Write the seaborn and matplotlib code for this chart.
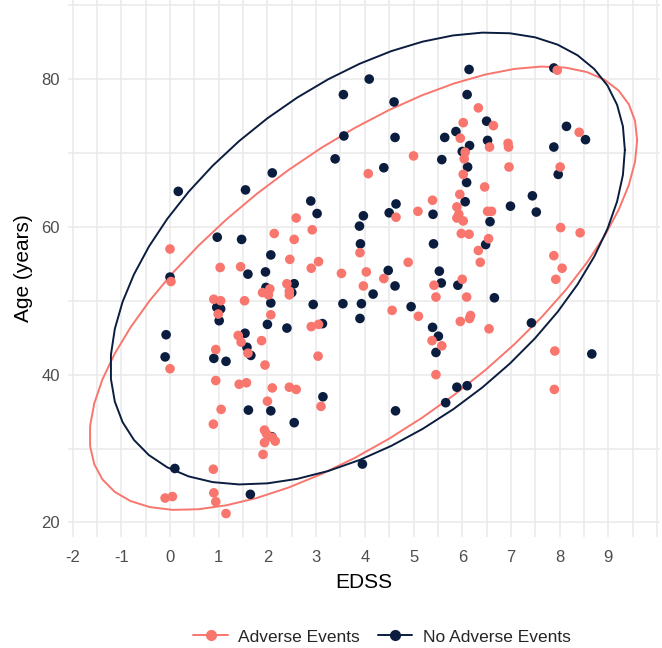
import numpy as np
import pandas as pd
import matplotlib
matplotlib.use("Agg")
import matplotlib.pyplot as plt
import seaborn as sns
from matplotlib.lines import Line2D

# ===============================
# Data
# ===============================
ae_edss = [0.0, 0.02, 0.0, -0.1, 0.05, 0.94, 1.46, 1.6, 1.88, 1.95, 3.04, 0.94, 1.42, 1.57,
           2.1, 2.45, 2.59, 2.0, 1.05, 0.89, 3.1, 1.94, 1.98, 2.1, 2.16, 1.94, 1.91, 0.89,
           0.9, 0.94, 1.15, 2.59, 2.14, 2.92, 2.55, 2.46, 3.05, 1.03, 1.45, 2.9, 2.05, 1.9,
           2.02, 2.4, 2.45, 2.45, 0.9, 1.04, 0.99, 1.53, 2.07, 2.9, 3.05, 1.4,
           6.33, 6.02, 5.96, 6.06, 6.04, 6.02, 5.95, 5.89, 5.93, 5.89, 6.02, 5.98, 6.14, 5.0,
           4.07, 5.39, 5.09, 4.64, 3.9, 6.33, 4.89, 6.37, 3.52, 4.03, 3.97, 4.39, 4.56, 5.1,
           5.42, 5.46, 6.0, 6.09, 5.96, 6.15, 6.17, 5.38, 5.58, 5.46, 7.88, 7.92, 6.55, 7.9,
           7.89, 7.95, 6.64, 6.56, 6.94, 6.95, 8.4, 6.96, 8.01, 6.46, 6.52, 6.6, 6.54, 8.02,
           8.42, 8.05]
ae_age = [57.0, 52.6, 40.8, 23.3, 23.5, 43.4, 44.4, 42.9, 44.6, 41.3, 42.5, 39.2, 38.7, 38.9,
          38.2, 38.3, 38.0, 36.4, 35.3, 33.3, 35.7, 32.5, 32.0, 31.5, 31.0, 30.8, 29.2, 27.2,
          24.0, 22.8, 21.2, 61.2, 59.1, 59.6, 58.3, 55.6, 55.3, 54.5, 54.6, 54.4, 51.6, 51.1,
          50.8, 52.3, 51.3, 50.8, 50.2, 50.0, 48.2, 50.0, 48.1, 46.5, 46.8, 45.3,
          76.1, 74.1, 72.0, 70.1, 69.2, 67.1, 64.4, 62.7, 61.7, 61.2, 60.8, 59.1, 59.0, 69.6,
          67.2, 63.6, 62.1, 61.3, 56.5, 56.8, 55.2, 55.2, 53.7, 53.9, 52.0, 53.0, 48.7, 47.9,
          52.1, 50.5, 52.9, 50.5, 47.2, 47.6, 48.0, 44.6, 43.9, 40.0, 56.1, 52.9, 46.2, 43.2,
          38.0, 81.2, 73.7, 70.8, 71.3, 70.8, 72.8, 68.1, 68.1, 65.4, 62.1, 62.1, 58.4, 59.9,
          59.2, 54.4]

nae_edss = [-0.1, 0.9, 1.15, 1.58, 1.66, 1.61, 2.07, 2.55, 2.09, 0.1, 1.65, 0.17, 1.55, 2.1,
            2.89, 3.02, 0.97, 1.47, 2.07, 1.6, 1.96, 0.0, 1.97, 2.55, 2.5, 0.96, 1.04, 1.01,
            2.07, 2.94, 2.0, 2.4, 1.54, -0.08,
            4.09, 3.56, 4.6, 6.14, 6.1, 3.57, 4.62, 5.64, 5.87, 6.15, 6.0, 6.11, 6.09, 6.06,
            5.58, 3.39, 4.39, 4.64, 4.5, 5.4, 3.97, 3.89, 3.91, 5.41, 4.48, 5.53, 5.57, 5.91,
            4.62, 4.17, 3.55, 3.93, 3.9, 4.95, 3.13, 5.39, 5.51, 5.46, 3.14, 4.63, 5.89, 6.1,
            5.66, 6.66, 7.42, 7.88, 6.5, 6.52, 8.14, 8.53, 7.88, 7.97, 7.44, 6.99, 7.52, 6.57,
            6.48, 8.66, 3.95]
nae_age = [42.4, 42.2, 41.8, 43.7, 42.6, 35.2, 35.1, 33.5, 31.6, 27.3, 23.8, 64.8, 65.0, 67.3,
           63.5, 61.8, 58.6, 58.3, 56.2, 53.6, 53.9, 53.2, 51.8, 52.3, 51.1, 49.1, 48.9, 47.3,
           49.7, 49.5, 46.8, 46.3, 45.6, 45.4,
           80.0, 77.9, 76.9, 81.3, 77.9, 72.3, 72.1, 72.1, 72.9, 71.0, 70.2, 68.1, 66.0, 63.4,
           69.1, 69.2, 68.0, 63.1, 61.9, 61.7, 61.5, 60.1, 57.7, 57.7, 54.1, 54.0, 52.4, 52.1,
           52.0, 50.9, 49.6, 49.6, 47.6, 49.2, 46.9, 46.4, 45.2, 43.0, 37.0, 35.1, 38.3, 38.5,
           36.2, 50.4, 47.0, 81.5, 74.3, 71.7, 73.6, 71.8, 70.8, 67.1, 64.2, 62.8, 62.0, 60.7,
           57.6, 42.8, 27.9]

groups = ["Adverse Events", "No Adverse Events"]
colors = ["#F8766D", "#0B1D3F"]

df = pd.DataFrame({
    "EDSS": ae_edss + nae_edss,
    "Age": ae_age + nae_age,
    "group": [groups[0]] * len(ae_edss) + [groups[1]] * len(nae_edss),
})


# ===============================
# 95% t-ellipse (like ggplot stat_ellipse)
# ===============================
def cov_trob(x, nu=5, maxit=25, tol=0.01):
    n, p = x.shape
    loc = x.mean(axis=0)
    w = np.ones(n)
    for _ in range(maxit):
        w0 = w
        X = x - loc
        _, d, vt = np.linalg.svd(np.sqrt(w / w.sum())[:, None] * X, full_matrices=False)
        wX = X @ vt.T / d
        Q = (wX ** 2).sum(axis=1)
        w = (nu + p) / (nu + Q)
        loc = (w[:, None] * x).sum(axis=0) / w.sum()
        if np.all(np.abs(w - w0) < tol):
            break
    cov = (np.sqrt(w)[:, None] * X).T @ (np.sqrt(w)[:, None] * X) / n
    return loc, cov


def ellipse(x, y, level=0.95, segments=51):
    pts = np.column_stack([x, y])
    center, shape = cov_trob(pts)
    dfd = len(x) - 1
    fq = dfd / 2 * ((1 - level) ** (-2 / dfd) - 1)
    radius = np.sqrt(2 * fq)
    chol = np.linalg.cholesky(shape).T
    ang = np.arange(segments + 1) * 2 * np.pi / segments
    circ = np.column_stack([np.cos(ang), np.sin(ang)])
    return center + radius * circ @ chol


# ===============================
# Plot
# ===============================
sns.set_theme(style="white")
plt.rcParams["font.family"] = ["Liberation Sans", "DejaVu Sans"]
plt.rcParams["axes.unicode_minus"] = False

fig = plt.figure(figsize=(6.62, 6.48), dpi=100)
ax = fig.add_axes([0.103, 0.171, 0.894, 0.829])

for g, c in zip(groups, colors):
    sub = df[df["group"] == g]
    e = ellipse(sub["EDSS"].values, sub["Age"].values)
    ax.plot(e[:, 0], e[:, 1], color=c, lw=1.4, zorder=2)

sns.scatterplot(data=df.iloc[::-1], x="EDSS", y="Age", hue="group", hue_order=groups,
                palette=colors, s=48, edgecolor="none", linewidth=0, legend=False,
                ax=ax, zorder=3)

ax.set_xlim(-2.09, 10.06)
ax.set_ylim(18.0, 90.7)
ax.set_xticks(np.arange(-2, 10, 1))
ax.set_xticks(np.arange(-1.5, 10.01, 0.5), minor=True)
ax.set_yticks([20, 40, 60, 80])
ax.set_yticks([30, 50, 70, 90], minor=True)
ax.grid(True, which="both", color="#EBEBEB", lw=1.2, zorder=0)
ax.set_axisbelow(True)
for s in ax.spines.values():
    s.set_visible(False)

ax.tick_params(axis="x", which="both", length=5, color="#E3E3E3", width=1,
               labelsize=12, labelcolor="#4D4D4D", pad=4)
ax.tick_params(axis="x", which="minor", labelbottom=False)
ax.tick_params(axis="y", which="both", length=0, labelsize=12, labelcolor="#4D4D4D", pad=6)

ax.set_xlabel("EDSS", fontsize=15, color="black", labelpad=6)
ax.set_ylabel("Age (years)", fontsize=15, color="black", labelpad=6)

handles = [Line2D([0], [0], color=c, lw=1.4, marker="o", markersize=7) for c in colors]
fig.legend(handles, groups, loc="center", bbox_to_anchor=(0.577, 0.017), ncol=2,
           frameon=False, fontsize=12.5, handlelength=2.0, columnspacing=1.0,
           handletextpad=0.6)

plt.savefig("out.png", dpi=100)
